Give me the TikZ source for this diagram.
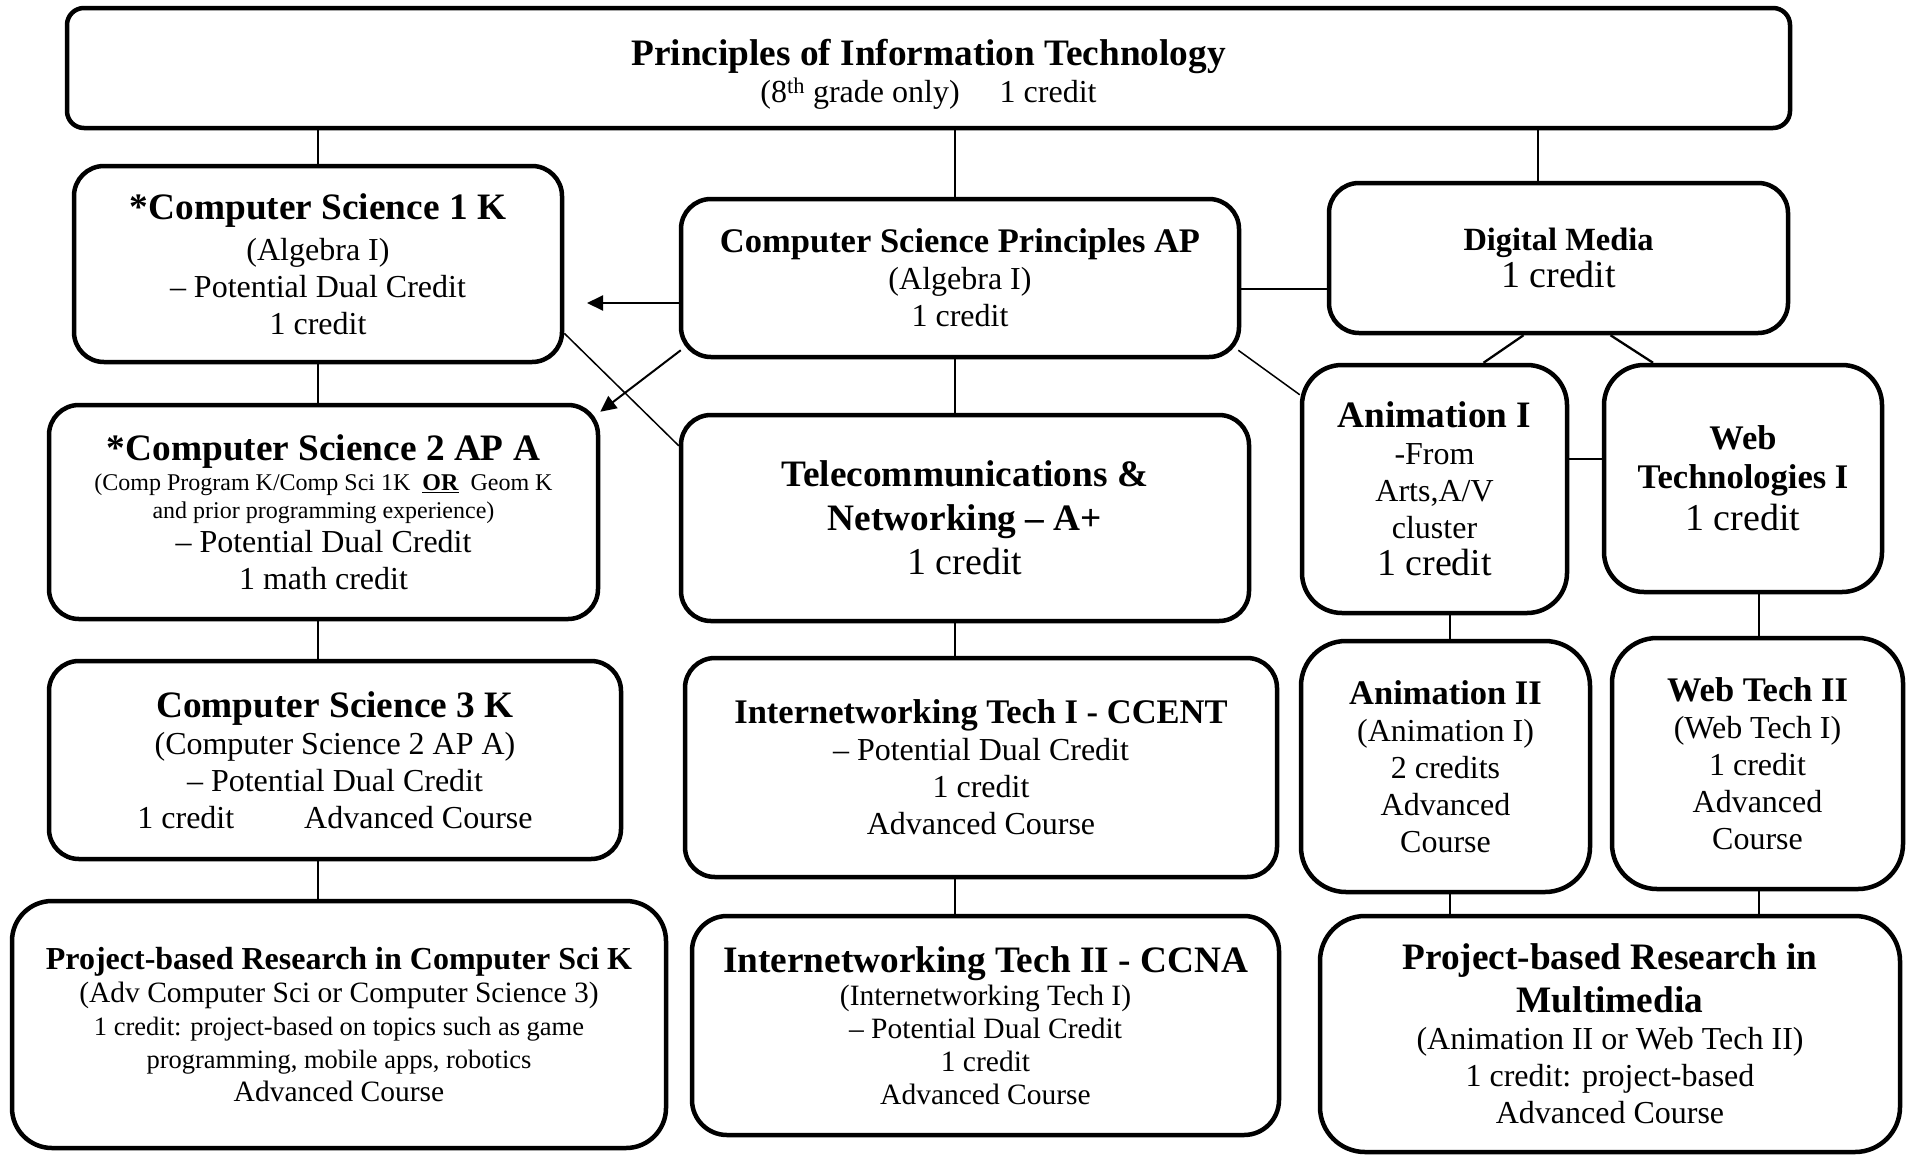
\documentclass[tikz,border=0pt]{standalone}
\usepackage{fontspec}
\setmainfont{Liberation Serif}
\usetikzlibrary{arrows.meta}

\newcommand{\hdfont}{\fontsize{37.3}{42}\selectfont\bfseries}
\newcommand{\hdsmall}{\fontsize{34.5}{39}\selectfont\bfseries}
\newcommand{\txfont}{\fontsize{32}{37}\selectfont}
\newcommand{\txbig}{\fontsize{38}{40}\selectfont}
\newcommand{\txnote}{\fontsize{29.5}{33}\selectfont}
\newcommand{\txdesc}{\fontsize{26.5}{32}\selectfont}
\newcommand{\txtiny}{\fontsize{24}{28}\selectfont}

\begin{document}
\begin{tikzpicture}[x=1pt, y=-1pt,
  course/.style={draw, line width=4.5pt, rounded corners=30pt, align=center,
    inner sep=0pt, font=\txfont},
  link/.style={line width=1.5pt},
  thick link/.style={line width=2.3pt},
  arr/.style={line width=2pt, -{Triangle[length=16pt, width=15pt]}}]

  \useasboundingbox (0,0) rectangle (1910,1154);

  \node[course, rounded corners=17pt, minimum width=1723pt, minimum height=120pt]
    (pit) at (928.5,68) {\rule{0pt}{38pt}{\hdfont Principles of Information Technology}\\
    (8\textsuperscript{th} grade only)\hspace{40pt}1 credit};
  \node[course, minimum width=488pt, minimum height=196pt] (cs1) at (318,264)
    {{\hdfont *Computer Science 1 K}\\[4pt] (Algebra I)\\
    \textendash\ Potential Dual Credit\\ 1 credit};
  \node[course, minimum width=558pt, minimum height=158pt] (csp) at (960,278)
    {{\hdsmall Computer Science Principles AP}\\ (Algebra I)\\ 1 credit};
  \node[course, minimum width=459pt, minimum height=150pt] (dm) at (1558.5,258)
    {{\fontsize{32.4}{38}\selectfont\bfseries Digital Media}\\ {\txbig 1 credit}};
  \node[course, minimum width=549pt, minimum height=214pt] (cs2) at (323.5,512)
    {{\hdfont *Computer Science 2 AP A}\\[-7pt]
    {\txtiny (Comp Program K/Comp Sci 1K\ \ \underline{\textbf{OR}}\ \ Geom K}\\[-9pt]
    {\txtiny and prior programming experience)}\\[-3pt]
    \textendash\ Potential Dual Credit\\ 1 math credit};
  \node[course, minimum width=568pt, minimum height=206pt] (tel) at (965,518)
    {{\hdfont Telecommunications \&}\\[7pt] {\hdfont Networking \textendash\ A+}\\[7pt]
    {\txbig 1 credit}};
  \node[course, rounded corners=40pt, minimum width=265pt, minimum height=248pt]
    (an1) at (1434.5,489) {{\hdfont Animation I}\\ -From\\ Arts,A/V\\ cluster\\
    {\txbig 1 credit}};
  \node[course, rounded corners=40pt, minimum width=278pt, minimum height=227pt]
    (wt1) at (1743,478.5) {{\hdsmall Web}\\[2pt] {\hdsmall Technologies I}\\[5pt]
    {\txbig 1 credit}};
  \node[course, minimum width=572pt, minimum height=198pt] (cs3) at (335,760)
    {{\hdfont Computer Science 3 K}\\ (Computer Science 2 AP A)\\
    \textendash\ Potential Dual Credit\\ 1 credit\hspace{70pt}Advanced Course};
  \node[course, minimum width=592pt, minimum height=219pt] (it1) at (981,767.5)
    {{\hdsmall Internetworking Tech I - CCENT}\\ \textendash\ Potential Dual Credit\\
    1 credit\\ Advanced Course};
  \node[course, rounded corners=45pt, minimum width=289pt, minimum height=251pt]
    (an2) at (1445.5,766.5) {{\hdsmall Animation II}\\ (Animation I)\\ 2 credits\\
    Advanced\\ Course};
  \node[course, rounded corners=45pt, minimum width=291pt, minimum height=251pt]
    (wt2) at (1757.5,763.5) {{\hdsmall Web Tech II}\\ (Web Tech I)\\ 1 credit\\
    Advanced\\ Course};
  \node[course, rounded corners=40pt, font=\txnote, minimum width=654pt,
    minimum height=247pt] (pbcs) at (339,1024.5)
    {{\fontsize{32}{38}\selectfont\bfseries Project-based Research in Computer Sci K}\\
    (Adv Computer Sci or Computer Science 3)\\
    {\txdesc 1 credit: project-based on topics such as game}\\
    {\txdesc programming, mobile apps, robotics}\\
    Advanced Course};
  \node[course, rounded corners=35pt, font=\txnote, minimum width=587pt,
    minimum height=219pt] (it2) at (985.5,1025.5)
    {{\hdfont Internetworking Tech II - CCNA}\\ (Internetworking Tech I)\\
    \textendash\ Potential Dual Credit\\ 1 credit\\ Advanced Course};
  \node[course, rounded corners=45pt, minimum width=580pt, minimum height=236pt]
    (pbmm) at (1610,1034) {{\hdfont Project-based Research in}\\[6pt]
    {\hdfont Multimedia}\\ (Animation II or Web Tech II)\\
    1 credit: project-based\\ Advanced Course};

  \coordinate (colA) at (318,0);
  \coordinate (colB) at (955,0);
  \coordinate (colC) at (1538,0);
  \coordinate (colD) at (1450,0);
  \coordinate (colE) at (1759,0);
  \coordinate (rowA) at (0,459);
  \coordinate (tipA) at (587,303);

  \draw[link] (pit.south -| colA) -- (cs1.north -| colA);
  \draw[link] (cs1.south -| colA) -- (cs2.north -| colA);
  \draw[link] (cs2.south -| colA) -- (cs3.north -| colA);
  \draw[link] (cs3.south -| colA) -- (pbcs.north -| colA);
  \draw[link] (pit.south -| colB) -- (csp.north -| colB);
  \draw[link] (csp.south -| colB) -- (tel.north -| colB);
  \draw[link] (tel.south -| colB) -- (it1.north -| colB);
  \draw[link] (it1.south -| colB) -- (it2.north -| colB);
  \draw[link] (pit.south -| colC) -- (dm.north -| colC);
  \draw[link] (an1.south -| colD) -- (an2.north -| colD);
  \draw[link] (an2.south -| colD) -- (pbmm.north -| colD);
  \draw[link] (wt1.south -| colE) -- (wt2.north -| colE);
  \draw[link] (wt2.south -| colE) -- (pbmm.north -| colE);

  \draw[arr] (csp.west |- tipA) -- (tipA);
  \draw[arr] ([xshift=2pt,yshift=9pt]csp.south west) -- ([yshift=-9pt]cs2.north east);
  \draw[link] ([yshift=31pt]cs1.south east) -- ([yshift=-33pt]tel.north west);
  \draw[thick link] ([yshift=-11pt]csp.east) -- ([yshift=-31pt]dm.west);
  \draw[link] ([xshift=-3pt,yshift=9pt]csp.south east) -- ([yshift=-32pt]an1.north west);
  \draw[thick link] ([xshift=-35pt]dm.south) -- ([xshift=49pt]an1.north);
  \draw[thick link] ([xshift=52pt]dm.south) -- ([xshift=-90pt]wt1.north);
  \draw[thick link] (an1.east |- rowA) -- (wt1.west |- rowA);
\end{tikzpicture}
\end{document}
